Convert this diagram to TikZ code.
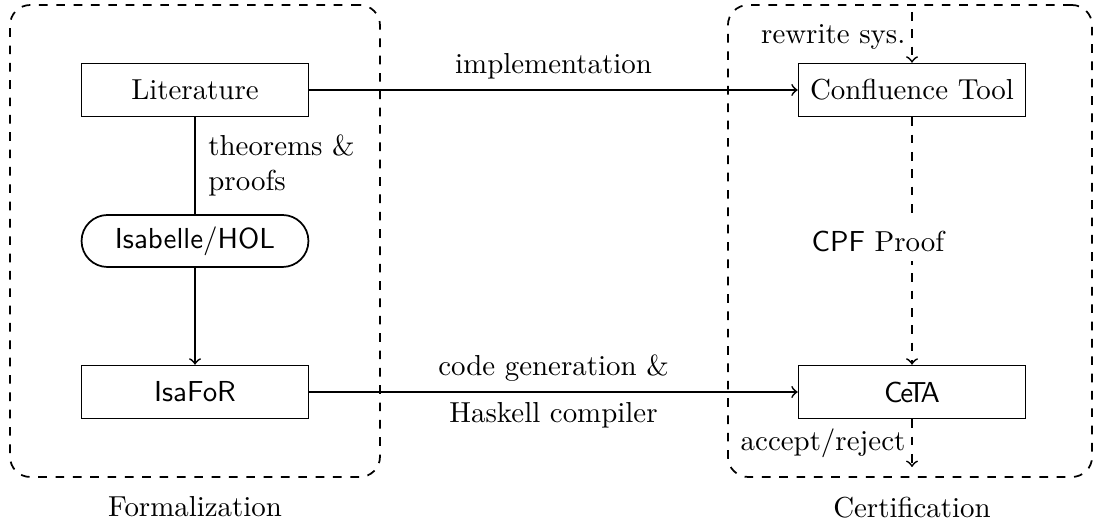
\documentclass[tikz,border=0pt]{standalone}
\usetikzlibrary{arrows}
\begin{document}
\begin{tikzpicture}[x=0.346pt,y=-0.346pt, semithick,
  box/.style={draw, minimum width=78.5pt, minimum height=18.3pt, inner sep=2pt},
  capsule/.style={draw, rounded corners=9pt, minimum width=78.5pt, minimum height=18pt, inner sep=2pt},
  region/.style={draw, dashed, rounded corners=7pt},
  lbl/.style={inner sep=3pt}
]
\useasboundingbox (0,0) rectangle (1096,522);
\node[region, minimum width=128pt, minimum height=163.3pt] (form) at (195,241) {};
\node[region, minimum width=126pt, minimum height=163.3pt] (cert) at (910,241) {};
\node (formlbl) at (195,507) {Formalization};
\node (certlbl) at (912,508) {Certification};

\node[box] (lit) at (195,90) {Literature};
\node[capsule] (isa) at (195,241) {\textsf{Isabelle}/\textsf{HOL}};
\node[box] (isafor) at (195,392) {\textsf{IsaFoR}};
\node[box] (conf) at (912,90) {Confluence Tool};
\node[box] (ceta) at (912,392) {\textsf{C\kern-0.8pt e\kern-2.2pt T\kern-2pt A}};

\coordinate (rtop) at (912,12);
\coordinate (rbot) at (912,467);

\draw (lit) -- node[right, align=left, xshift=1pt] {theorems \&\\proofs} (isa);
\draw[->] (isa) -- (isafor);
\draw[->] (lit) -- node[above] {implementation} (conf);
\draw[->] (isafor) -- node[above] {code generation \&} node[below] {Haskell compiler} (ceta);
\draw[->, dashed] (conf) -- node[fill=white, xshift=-11.8pt] {\textsf{CPF} Proof} (ceta);
\draw[->, dashed] (rtop) -- node[left, inner sep=2pt] {rewrite sys.} (conf);
\draw[->, dashed] (ceta) -- node[left, inner sep=2pt] {accept/reject} (rbot);
\end{tikzpicture}
\end{document}
